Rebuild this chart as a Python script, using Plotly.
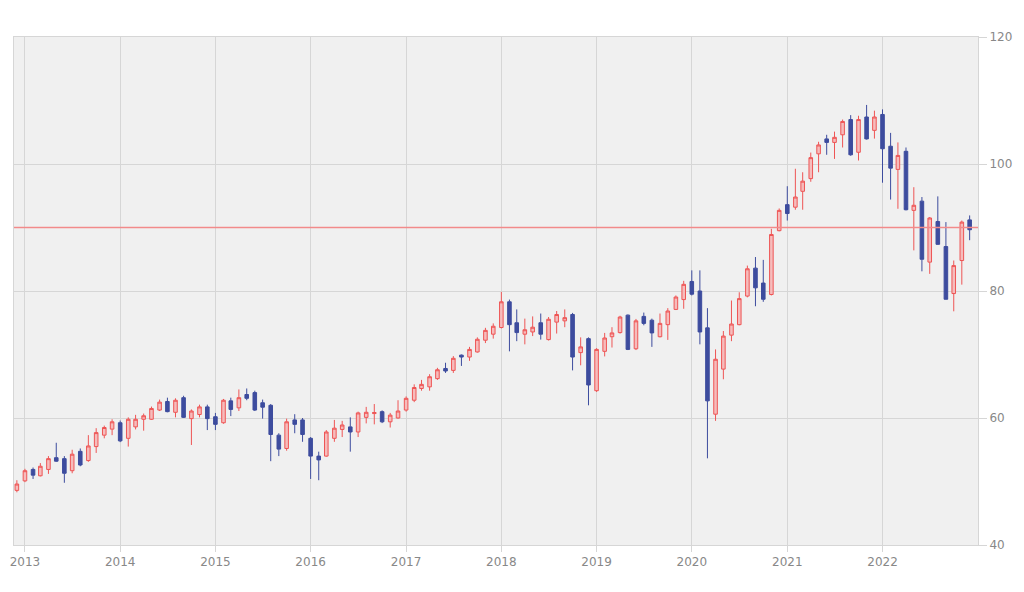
import pandas as pd
import plotly.graph_objects as go

months = pd.date_range("2012-12-01", periods=121, freq="MS")

open_ = [48.6, 50.1, 51.9, 50.9, 51.9, 53.75, 53.6, 51.7, 54.75, 53.3,
         55.5, 57.3, 58.25, 59.25, 56.8, 58.6, 59.8, 59.8, 61.25, 62.6,
         60.9, 63.2, 59.9, 60.55, 61.75, 60.2, 59.25, 62.7, 61.6, 63.7,
         64.0, 62.4, 62.0, 57.3, 55.2, 59.7, 59.7, 56.8, 54.0, 54.0,
         56.8, 58.2, 58.6, 57.8, 60.1, 60.7, 61.0, 59.4, 60.0, 61.25,
         62.8, 64.65, 64.9, 66.2, 67.8, 67.5, 69.9, 69.6, 70.4, 72.25,
         73.2, 74.25, 78.3, 75.0, 73.2, 73.55, 75.0, 72.35, 75.1, 75.3,
         76.3, 70.3, 72.5, 64.3, 70.5, 72.8, 73.45, 76.2, 70.9, 76.0,
         75.4, 72.8, 74.7, 77.1, 78.65, 81.5, 80.0, 74.2, 60.6, 67.7,
         73.05, 74.7, 79.2, 83.6, 81.25, 79.45, 89.5, 93.6, 93.2, 95.7,
         97.7, 101.6, 103.95, 103.4, 104.6, 107.0, 101.85, 107.4, 105.3, 107.8,
         102.8, 99.15, 102.0, 92.7, 94.15, 84.55, 90.95, 87.0, 79.6, 84.8,
         91.2]
high = [50.2, 52.0, 52.2, 52.9, 54.0, 56.1, 54.0, 55.0, 55.2, 57.3,
        58.4, 58.8, 59.8, 59.6, 60.1, 60.5, 60.7, 61.8, 62.9, 63.2,
        63.1, 63.5, 61.35, 62.1, 62.1, 60.8, 63.0, 63.2, 64.5, 64.65,
        64.3, 62.9, 62.2, 57.6, 59.9, 60.6, 60.0, 57.0, 54.7, 58.1,
        59.7, 59.55, 60.1, 61.0, 61.75, 62.2, 61.2, 60.8, 62.8, 63.4,
        65.3, 66.0, 66.9, 67.9, 68.7, 69.75, 70.0, 71.2, 72.7, 74.2,
        74.9, 79.85, 78.65, 77.1, 75.65, 76.0, 76.45, 75.9, 76.85, 77.1,
        76.55, 72.7, 72.7, 71.0, 73.4, 74.3, 76.1, 76.3, 75.6, 76.6,
        75.65, 76.45, 77.3, 79.3, 81.6, 83.25, 83.25, 77.3, 70.8, 73.7,
        78.5, 79.8, 84.0, 85.35, 84.9, 89.8, 93.0, 96.5, 99.25, 98.7,
        101.8, 103.5, 104.6, 105.1, 107.0, 107.7, 107.6, 109.3, 108.4, 108.6,
        104.9, 103.4, 102.6, 96.35, 94.8, 91.65, 94.9, 90.85, 84.8, 91.1,
        91.9]
low = [48.3, 49.9, 50.4, 50.8, 51.2, 53.1, 49.8, 51.3, 52.4, 53.1,
       54.5, 56.8, 57.3, 56.2, 55.5, 58.2, 58.0, 59.7, 61.1, 60.9,
       60.1, 60.0, 55.75, 60.1, 58.1, 58.1, 59.1, 60.3, 61.1, 62.8,
       61.1, 59.9, 53.2, 54.0, 54.85, 57.6, 56.25, 50.4, 50.2, 53.9,
       56.25, 57.0, 54.7, 57.0, 59.15, 59.0, 59.2, 58.5, 59.9, 61.0,
       62.5, 64.3, 64.3, 66.0, 67.1, 67.1, 68.2, 69.0, 70.3, 71.8,
       72.5, 74.1, 70.5, 72.1, 71.6, 72.9, 72.35, 72.2, 73.3, 74.3,
       67.5, 68.3, 62.0, 64.1, 69.7, 71.1, 73.3, 70.7, 70.7, 74.6,
       71.2, 72.7, 72.3, 77.0, 77.2, 79.3, 71.6, 53.65, 59.55, 66.1,
       72.1, 74.6, 79.0, 77.6, 78.3, 79.3, 89.4, 91.1, 92.8, 92.8,
       97.2, 98.7, 101.45, 100.8, 102.6, 101.3, 100.55, 103.85, 104.0, 97.05,
       94.4, 92.95, 92.7, 86.4, 83.1, 82.7, 87.3, 78.7, 76.8, 81.0,
       88.0]
close = [49.6, 51.7, 51.0, 52.4, 53.6, 53.2, 51.3, 54.3, 52.6, 55.6,
         57.7, 58.5, 59.4, 56.4, 59.8, 59.8, 60.35, 61.5, 62.5, 61.0,
         62.8, 60.1, 61.1, 61.75, 59.9, 59.0, 62.8, 61.35, 63.2, 63.1,
         61.25, 61.7, 57.4, 55.1, 59.4, 59.0, 57.4, 54.0, 53.4, 57.8,
         58.4, 58.9, 57.8, 60.8, 60.9, 60.85, 59.4, 60.45, 61.1, 63.1,
         64.8, 65.3, 66.5, 67.6, 67.4, 69.4, 69.6, 70.8, 72.4, 73.8,
         74.45, 78.3, 74.7, 73.45, 73.9, 74.3, 73.2, 75.55, 76.3, 75.8,
         69.6, 71.2, 65.2, 70.8, 72.6, 73.4, 75.9, 70.8, 75.3, 74.9,
         73.4, 74.9, 76.85, 79.05, 81.05, 79.5, 73.55, 62.7, 69.25, 72.9,
         74.8, 78.8, 83.5, 80.5, 78.7, 88.9, 92.7, 92.2, 94.8, 97.3,
         101.0, 103.0, 103.4, 104.2, 106.7, 101.45, 107.0, 103.95, 107.4, 102.4,
         99.35, 101.35, 92.8, 93.5, 85.0, 91.5, 87.35, 78.7, 84.0, 90.85,
         89.65]

year_ticks = pd.date_range("2013-01-01", "2022-01-01", freq="YS")
year_labels = [str(d.year) for d in year_ticks]
y_ticks = [40, 60, 80, 100, 120]
ref_level = 90
ref_span = ["2012-11-20", "2023-01-02"]

fig = go.Figure()
fig.add_trace(go.Scatter(
    x=ref_span, y=[ref_level, ref_level], mode="lines",
    line=dict(color="#f28a8a", width=1.3),
    hoverinfo="skip", showlegend=False,
))
fig.add_trace(go.Candlestick(
    x=months, open=open_, high=high, low=low, close=close,
    increasing=dict(line=dict(color="#ee5555", width=1), fillcolor="#f6bcbc"),
    decreasing=dict(line=dict(color="#3d4c9e", width=1), fillcolor="#3d4c9e"),
    whiskerwidth=0,
    showlegend=False,
))

fig.update_layout(
    width=1024, height=592,
    margin=dict(l=10, r=46, t=37, b=47),
    paper_bgcolor="white",
    plot_bgcolor="#f0f0f0",
    font=dict(family="DejaVu Sans", size=12, color="#888888"),
    showlegend=False,
    xaxis=dict(
        type="date",
        range=ref_span,
        tickvals=list(year_ticks), ticktext=year_labels,
        showgrid=True, gridcolor="#d6d6d6", gridwidth=1,
        ticks="outside", ticklen=6, tickcolor="#d6d6d6",
        showline=True, linecolor="#d6d6d6", mirror=True,
        rangeslider=dict(visible=False),
        zeroline=False,
    ),
    yaxis=dict(
        side="right",
        range=[40, 120],
        tickvals=y_ticks,
        showgrid=True, gridcolor="#d6d6d6", gridwidth=1,
        ticks="outside", ticklen=8, tickcolor="#d6d6d6",
        showline=True, linecolor="#d6d6d6", mirror=True,
        zeroline=False,
    ),
)

fig.write_html("out.html", config={"displayModeBar": False},
               post_script="document.body.style.margin='0';")
